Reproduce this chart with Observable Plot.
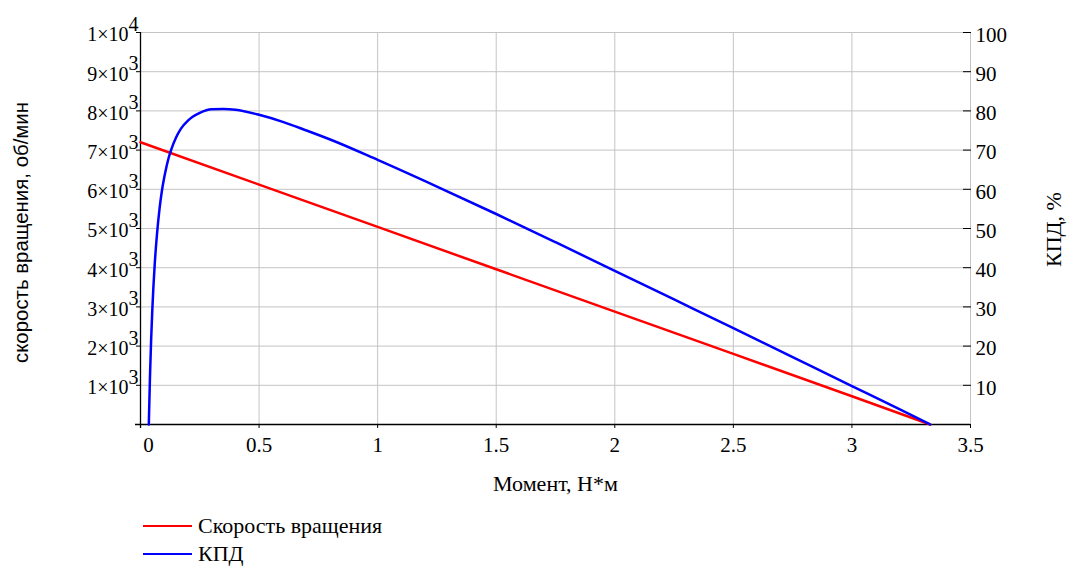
<!DOCTYPE html>
<html>
<head>
<meta charset="utf-8">
<script src="https://cdn.jsdelivr.net/npm/d3@7"></script>
<script src="https://cdn.jsdelivr.net/npm/@observablehq/plot@0.6"></script>
<style>
  body { margin: 0; background: white; font-family: "Liberation Serif", "DejaVu Serif", "Times New Roman", Times, serif; }
  #legend { margin-left: 143px; margin-top: 5px; font-size: 22px; color: #000; font-family: "Liberation Serif", "DejaVu Serif", serif; }
  #legend .item { height: 28px; display: flex; align-items: center; }
  #legend .item span { line-height: 22px; }
  #legend .sw { width: 49px; height: 2.5px; margin-right: 6px; }
  #chart svg text { font-family: "Liberation Serif", "DejaVu Serif", serif; }
  #chart svg text.sans, #chart svg g.sans text { font-family: "Liberation Sans", "DejaVu Sans", sans-serif; }
</style>
</head>
<body>
<div id="chart"></div>
<div id="legend"></div>
<script>
// Speed line (об/мин) vs moment (Н*м)
const speedTorque = [0, 0.5, 1, 1.5, 2, 2.5, 3, 3.33];
const speedValues = [7200, 6120, 5040, 3960, 2880, 1800, 720, 0];

// Efficiency (КПД, %) vs moment
const kpdTorque = [0.035, 0.04, 0.045, 0.05, 0.06, 0.07, 0.08, 0.09, 0.1, 0.11, 0.12, 0.13, 0.15, 0.17, 0.2, 0.22, 0.25, 0.3, 0.35, 0.4, 0.5, 0.6, 0.7, 0.8, 1.0, 1.25, 1.5, 1.75, 2.0, 2.25, 2.5, 2.75, 3.0, 3.2, 3.33];
const kpdValues = [0, 12.3, 21.9, 29.5, 40.9, 48.9, 54.9, 59.5, 63.0, 65.9, 68.3, 70.2, 73.2, 75.4, 77.5, 78.5, 79.5, 80.4, 80.5, 80.3, 79.0, 77.2, 75.0, 72.7, 67.5, 60.7, 53.7, 46.5, 39.2, 31.9, 24.6, 17.2, 9.8, 3.9, 0];

const xTicks = [0, 0.5, 1, 1.5, 2, 2.5, 3, 3.5];
const yTicks = [1000, 2000, 3000, 4000, 5000, 6000, 7000, 8000, 9000, 10000];
const kpdTickLabels = [10, 20, 30, 40, 50, 60, 70, 80, 90, 100];

const seriesNames = ["Скорость вращения", "КПД"];
const seriesColors = ["#ff0000", "#0000ff"];

const speedData = speedTorque.map((t, i) => ({t, v: speedValues[i]}));
const kpdData = kpdTorque.map((t, i) => ({t, v: kpdValues[i]}));

const mant = d => (d >= 10000 ? "1" : String(d / 1000)) + "×10";
const expo = d => (d >= 10000 ? "4" : "3");

const chart = Plot.plot({
  width: 1068,
  height: 507,
  marginLeft: 140,
  marginRight: 98,
  marginTop: 32,
  marginBottom: 83,
  x: {domain: [0, 3.5]},
  y: {domain: [0, 10000]},
  style: {fontFamily: "'Liberation Serif', 'DejaVu Serif', serif", fontSize: "20px", background: "white", color: "#000"},
  marks: [
    Plot.gridX(xTicks, {stroke: "#c4c4c4", strokeOpacity: 1, strokeWidth: 1}),
    Plot.gridY(yTicks, {stroke: "#c4c4c4", strokeOpacity: 1, strokeWidth: 1}),
    Plot.ruleX([0], {stroke: "#000", strokeWidth: 1.3, insetBottom: -4}),
    Plot.ruleY([0], {stroke: "#000", strokeWidth: 1.3, insetLeft: -5}),
    // bottom axis: ticks, then labels (the "0" label sits slightly right of its tick)
    Plot.axisX(xTicks, {anchor: "bottom", tickSize: 4, tickFormat: () => "", label: null, stroke: "#000"}),
    Plot.axisX(xTicks.filter(d => d > 0), {anchor: "bottom", tickSize: 0, tickPadding: 13, fontSize: 21, tickFormat: d => String(d), label: null}),
    Plot.axisX(xTicks.filter(d => d === 0), {anchor: "bottom", tickSize: 0, tickPadding: 13, dx: 8, fontSize: 21, tickFormat: d => String(d), label: null}),
    // left axis: ticks, exponent, mantissa
    Plot.axisY(yTicks, {anchor: "left", tickSize: 4, tickFormat: () => "", label: null, stroke: "#000"}),
    Plot.axisY(yTicks, {anchor: "left", tickSize: 0, tickPadding: 2, fontSize: 20, tickFormat: expo, dy: -8, label: null}),
    Plot.axisY(yTicks, {anchor: "left", tickSize: 0, tickPadding: 12, fontSize: 20, tickFormat: mant, dy: 2.5, label: null}),
    // right axis: inward ticks + labels
    Plot.axisY(yTicks, {anchor: "right", tickSize: 8, dx: -8, tickFormat: () => "", label: null, stroke: "#000"}),
    Plot.axisY(yTicks, {anchor: "right", tickSize: 0, tickPadding: 5, fontSize: 21, tickFormat: d => String(kpdTickLabels[yTicks.indexOf(d)]), dy: 2.5, label: null}),
    // axis titles
    Plot.text(["скорость вращения, об/мин"], {frameAnchor: "left", textAnchor: "middle", dx: -119, dy: 4, rotate: -90, fontSize: 20.4, className: "sans"}),
    Plot.text(["КПД, %"], {frameAnchor: "right", textAnchor: "middle", dx: 83, dy: 1, rotate: -90, fontSize: 22}),
    Plot.text(["Момент, Н*м"], {frameAnchor: "bottom", textAnchor: "middle", dy: 66, fontSize: 22}),
    // data
    Plot.line(speedData, {x: "t", y: "v", stroke: seriesColors[0], strokeWidth: 2.5}),
    Plot.line(kpdData, {x: "t", y: d => d.v * 100, stroke: seriesColors[1], strokeWidth: 2.5, curve: "monotone-x"})
  ]
});
document.getElementById("chart").appendChild(chart);

const legend = document.getElementById("legend");
seriesNames.forEach((name, i) => {
  const item = document.createElement("div");
  item.className = "item";
  const sw = document.createElement("div");
  sw.className = "sw";
  sw.style.background = seriesColors[i];
  const label = document.createElement("span");
  label.textContent = name;
  item.appendChild(sw);
  item.appendChild(label);
  legend.appendChild(item);
});
</script>
</body>
</html>
